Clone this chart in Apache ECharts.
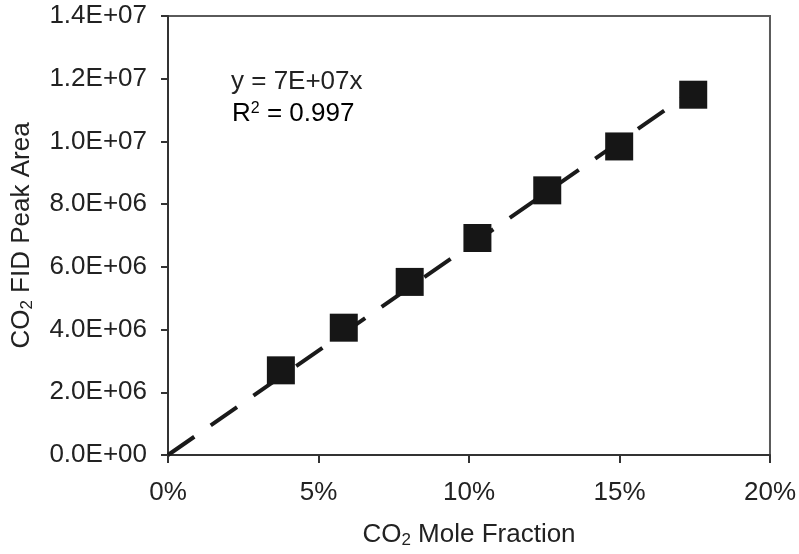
<!DOCTYPE html>
<html>
<head>
<meta charset="utf-8">
<script src="https://cdn.jsdelivr.net/npm/echarts@6/dist/echarts.min.js"></script>
<style>
html,body{margin:0;padding:0;background:#fff;}
#chart{width:799px;height:554px;}
</style>
</head>
<body>
<div id="chart"></div>
<script>
// Data
var co2Fraction = [0.0375, 0.0584, 0.0803, 0.1028, 0.1260, 0.1499, 0.1745];
var peakArea = [2.70e6, 4.06e6, 5.52e6, 6.92e6, 8.44e6, 9.84e6, 11.49e6];
var xTickLabels = ['0%', '5%', '10%', '15%', '20%'];
var yTickLabels = ['0.0E+00', '2.0E+06', '4.0E+06', '6.0E+06', '8.0E+06', '1.0E+07', '1.2E+07', '1.4E+07'];
var equationText = 'y = 7E+07x';
var r2Text = '0.997';

// Least squares fit through origin (trendline)
var sxy = 0, sxx = 0;
for (var i = 0; i < co2Fraction.length; i++) {
  sxy += co2Fraction[i] * peakArea[i];
  sxx += co2Fraction[i] * co2Fraction[i];
}
var slope = sxy / sxx;
var xEnd = co2Fraction[co2Fraction.length - 1];
var trendData = [[0, 0], [xEnd, slope * xEnd]];
var points = co2Fraction.map(function (x, i) { return [x, peakArea[i]]; });

var textColor = '#222222';
var font = 'Liberation Sans, Arial, sans-serif';

var chart = echarts.init(document.getElementById('chart'), null, {renderer: 'canvas'});
chart.setOption({
  animation: false,
  backgroundColor: '#ffffff',
  grid: {
    left: 168, right: 28, top: 16, bottom: 98,
    show: true, borderColor: '#5a5a5a', borderWidth: 2, backgroundColor: 'transparent'
  },
  xAxis: {
    type: 'value', min: 0, max: 0.2, interval: 0.05,
    name: '{a|CO}{s|2}{a| Mole Fraction}',
    nameLocation: 'middle', nameGap: 65,
    nameTextStyle: {
      rich: {
        a: {fontSize: 26, fontFamily: font, color: textColor},
        s: {fontSize: 17, fontFamily: font, color: textColor, verticalAlign: 'bottom', padding: [12, 0, 0, 0]}
      }
    },
    axisLine: {show: true, lineStyle: {color: '#333333', width: 2}},
    axisTick: {show: true, length: 8, lineStyle: {color: '#333333', width: 2}},
    splitLine: {show: false},
    axisLabel: {
      margin: 25, fontSize: 26, fontFamily: font, color: textColor,
      formatter: function (v) { return xTickLabels[Math.round(v / 0.05)]; }
    }
  },
  yAxis: {
    type: 'value', min: 0, max: 1.4e7, interval: 2e6,
    name: '{a|CO}{s|2}{a| FID Peak Area}',
    nameLocation: 'middle', nameGap: 132, nameRotate: 90,
    nameTextStyle: {
      rich: {
        a: {fontSize: 26, fontFamily: font, color: textColor},
        s: {fontSize: 17, fontFamily: font, color: textColor, verticalAlign: 'bottom', padding: [12, 0, 0, 0]}
      }
    },
    axisLine: {show: true, lineStyle: {color: '#333333', width: 2}},
    axisTick: {show: true, length: 7, lineStyle: {color: '#333333', width: 2}},
    splitLine: {show: false},
    axisLabel: {
      margin: 21, fontSize: 26, fontFamily: font, color: textColor,
      formatter: function (v) { return yTickLabels[Math.round(v / 2e6)]; }
    }
  },
  graphic: [
    {
      type: 'text', left: 231, top: 69, z: 100,
      style: {text: equationText, font: '26px Liberation Sans, Arial, sans-serif', fill: textColor}
    },
    {
      type: 'text', left: 232, top: 101, z: 100,
      style: {
        text: '{a|R}{p|2}{a| = ' + r2Text + '}',
        rich: {
          a: {fontSize: 26, fontFamily: font, color: textColor},
          p: {fontSize: 16, fontFamily: font, color: textColor, verticalAlign: 'top', padding: [0, 0, 10, 0]}
        }
      }
    }
  ],
  series: [
    {
      type: 'line', data: trendData, symbol: 'none', z: 2,
      lineStyle: {color: '#1a1a1a', width: 4, type: [32, 20], cap: 'butt'}
    },
    {
      type: 'scatter', data: points, symbol: 'rect', symbolSize: 28, z: 3,
      itemStyle: {color: '#161616', opacity: 1, borderWidth: 0}
    }
  ]
});
</script>
</body>
</html>
